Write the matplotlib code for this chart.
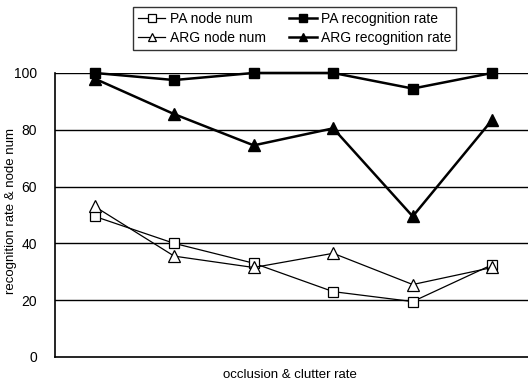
import matplotlib.pyplot as plt
import numpy as np

plt.rcParams['font.family'] = ['Liberation Sans', 'DejaVu Sans']

# valores
puntos = np.arange(6)
pa_node = [49.5, 40, 33, 23, 19.5, 32.5]
pa_rate = [100, 97.5, 100, 100, 94.5, 100]
arg_node = [53, 35.5, 31.5, 36.5, 25.5, 31.5]
arg_rate = [98, 85.5, 74.5, 80.5, 49.5, 83.5]

fig = plt.figure(figsize=(5.28, 3.88), dpi=100)
ax = fig.add_axes([0.104, 0.08, 0.896, 0.732])

for y in [20, 40, 60, 80, 100]:
    ax.axhline(y, color='black', lw=1.0, zorder=1)

l1, = ax.plot(puntos, pa_node, color='black', lw=0.9, marker='s', ms=7,
              mfc='white', mec='black', mew=0.9, clip_on=False, zorder=3)
l2, = ax.plot(puntos, pa_rate, color='black', lw=1.8, marker='s', ms=7,
              mfc='black', mec='black', clip_on=False, zorder=3)
l3, = ax.plot(puntos, arg_node, color='black', lw=0.9, marker='^', ms=8,
              mfc='white', mec='black', mew=0.9, clip_on=False, zorder=3)
l4, = ax.plot(puntos, arg_rate, color='black', lw=1.8, marker='^', ms=8,
              mfc='black', mec='black', clip_on=False, zorder=3)

ax.set_xlim(-0.5, 5.45)
ax.set_ylim(0, 100)
ax.set_yticks([0, 20, 40, 60, 80, 100])
ax.set_xticks([])
ax.tick_params(axis='y', length=0, pad=13, labelsize=10)
for s in ['top', 'right']:
    ax.spines[s].set_visible(False)
ax.spines['left'].set_linewidth(1.2)
ax.spines['bottom'].set_linewidth(1.2)

fig.text(0.021, 0.455, 'recognition rate & node num', rotation=90,
         fontsize=9.5, ha='center', va='center')
fig.text(0.55, 0.033, 'occlusion & clutter rate', fontsize=9.5,
         ha='center', va='center')

leg = fig.legend([l1, l3, l2, l4],
                 ['PA node num', 'ARG node num', 'PA recognition rate', 'ARG recognition rate'],
                 ncol=2, loc='upper center', bbox_to_anchor=(0.558, 1.0),
                 fontsize=10, frameon=True, fancybox=False, edgecolor='black',
                 handlelength=2.0, handletextpad=0.3, columnspacing=1.7,
                 borderpad=0.35, labelspacing=0.4, markerscale=0.8)
leg.get_frame().set_linewidth(1.0)

plt.savefig('out.png', dpi=100)
